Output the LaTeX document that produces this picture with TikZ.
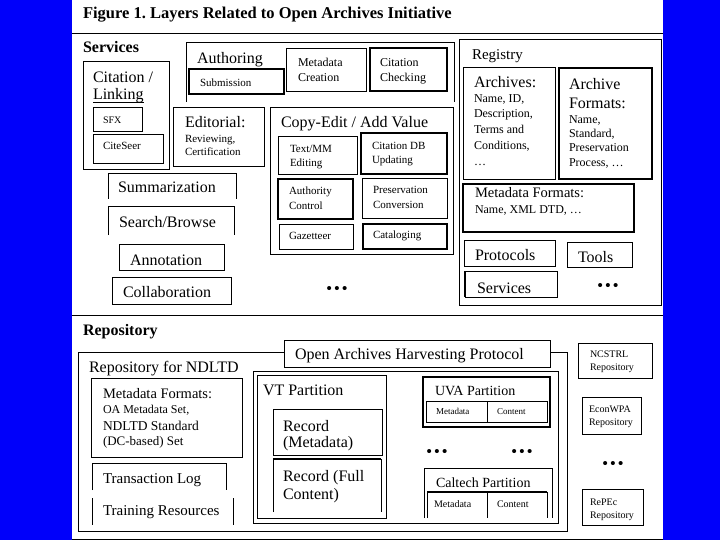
\documentclass[tikz,border=0pt]{standalone}
\usepackage{fontspec}
\setmainfont{Liberation Serif}
\definecolor{bgblue}{RGB}{0,0,250}
\frenchspacing
\begin{document}
\begin{tikzpicture}[x=1pt,y=-1pt,
  box/.style={draw=black,line width=0.8pt},
  tbox/.style={draw=black,line width=1.4pt},
  rule/.style={draw=black,line width=0.9pt},
  lbl/.style={anchor=base west,inner sep=0pt,outer sep=0pt},
  ttl/.style={lbl,font=\fontsize{16.5}{18}\selectfont\bfseries},
  head/.style={lbl,font=\fontsize{16}{18}\selectfont\bfseries},
  big/.style={lbl,font=\fontsize{16}{18}\selectfont},
  med/.style={lbl,font=\fontsize{14.5}{16}\selectfont},
  sml/.style={lbl,font=\fontsize{12}{14}\selectfont},
  xsm/.style={lbl,font=\fontsize{11}{13}\selectfont},
  fnine/.style={lbl,font=\fontsize{10}{12}\selectfont},
  dotrow/.style={anchor=center,inner sep=0pt,font=\fontsize{15}{15}\selectfont\bfseries}
]
% background
\fill[bgblue] (0,0) rectangle (720,540);
\fill[white] (72,0) rectangle (663,540);
\draw[rule] (72,33) -- (663,33);
\draw[rule] (72,315) -- (663,315);
\draw[rule] (72,539.5) -- (663,539.5);

\node[ttl] (title) at (83,19) {Figure 1. Layers Related to Open Archives Initiative};

% ================= SERVICES =================
\node[head] (services) at (83,53) {Services};

% Authoring
\draw[box] (186,102) -- (186,42) -- (454,42) -- (454,102);
\node[big] (authoring) at (197,64) {Authoring};
\draw[box,line width=1.1pt] (189,69) rectangle (284,94);
\node[xsm] (submission) at (200,87) {Submission};
\draw[box] (286,48) rectangle (366,91);
\node[sml] (mdc1) at (298,67) {Metadata};
\node[sml] (mdc2) at (298,82) {Creation};
\draw[tbox] (370,48) rectangle (447,91);
\node[sml] (cc1) at (380,67) {Citation};
\node[sml] (cc2) at (380,82) {Checking};

% Citation / Linking
\draw[box] (83,61) rectangle (169,169);
\node[big] (cit) at (93,83) {Citation /};
\node[big] (link) at (93,100) {Linking};
\draw[black,line width=0.7pt] ([yshift=-2pt]link.base west) -- ([yshift=-2pt]link.base east);
\draw[box] (93,107) rectangle (142,131);
\node[fnine] (sfx) at (103,124) {SFX};
\draw[box] (93,134) rectangle (163,163);
\node[xsm] (citeseer) at (103,150) {CiteSeer};

% Editorial
\draw[box] (173,107) rectangle (264,166);
\node[big] (editorial) at (185,128) {Editorial:};
\node[xsm] (ed2) at (185,143) {Reviewing,};
\node[xsm] (ed3) at (185,156) {Certification};

% Copy-Edit / Add Value
\draw[box] (270,107) rectangle (453,254);
\node[big] (copyedit) at (281,128) {Copy-Edit / Add Value};
\draw[box] (278,136) rectangle (357,174);
\node[xsm] (tm1) at (290,153) {Text/MM};
\node[xsm] (tm2) at (290,167) {Editing};
\draw[tbox] (361,133) rectangle (447,174);
\node[xsm] (cdb1) at (372,150) {Citation DB};
\node[xsm] (cdb2) at (372,164) {Updating};
\draw[tbox] (278,179) rectangle (353,219);
\node[xsm] (ac1) at (289,195) {Authority};
\node[xsm] (ac2) at (289,210) {Control};
\draw[box] (362,178) rectangle (447,218);
\node[xsm] (pc1) at (373,194) {Preservation};
\node[xsm] (pc2) at (373,208) {Conversion};
\draw[box] (279,224) rectangle (353,249);
\node[xsm] (gaz) at (289,240) {Gazetteer};
\draw[tbox] (363,224) rectangle (447,249);
\node[xsm] (cat) at (373,239) {Cataloging};

% left column
\draw[box] (108,199) -- (108,173) -- (236,173) -- (236,199);
\node[big] (summ) at (118,193) {Summarization};
\draw[box] (108,235) -- (108,206) -- (234,206) -- (234,235);
\node[big] (search) at (119,227) {Search/Browse};
\draw[box] (119,244) rectangle (224,270);
\node[big] (annot) at (130,265) {Annotation};
\draw[box] (112,277) rectangle (231,304);
\node[big] (collab) at (123,297) {Collaboration};
\node[dotrow] (sdots) at (337,290) {\textbullet\hspace{2.5pt}\textbullet\hspace{2.5pt}\textbullet};

% Registry
\draw[box] (459,39) rectangle (661,305);
\node[lbl,font=\fontsize{15}{17}\selectfont] (registry) at (472,60) {Registry};
\draw[box] (463,67) rectangle (555,179);
\node[big] (arch) at (474,88) {Archives:};
\node[sml] (arch2) at (474,103) {Name, ID,};
\node[sml] (arch3) at (474,118) {Description,};
\node[sml] (arch4) at (474,134) {Terms and};
\node[sml] (arch5) at (474,150) {Conditions,};
\node[sml] (arch6) at (474,166) {\dots};
\draw[tbox] (559,68) rectangle (652,179);
\node[big] (af1) at (569,90) {Archive};
\node[big] (af2) at (569,109) {Formats:};
\node[sml] (af3) at (569,124) {Name,};
\node[sml] (af4) at (569,138) {Standard,};
\node[sml] (af5) at (569,152) {Preservation};
\node[sml] (af6) at (569,167) {Process, \dots};
\draw[tbox] (463,184) rectangle (634,232);
\node[med] (mf1) at (475,197) {Metadata Formats:};
\node[sml] (mf2) at (475,214) {Name, XML DTD, \dots};
\draw[box] (464,240) rectangle (555,266);
\node[big] (protocols) at (475,260) {Protocols};
\draw[box] (567,242) rectangle (632,267);
\node[big] (tools) at (578,262) {Tools};
\draw[box] (465,271) rectangle (557,297);
\draw[black,line width=1.6pt] (465,271) -- (465,297);
\node[big] (rservices) at (477,293) {Services};
\node[dotrow] (rdots) at (608,287) {\textbullet\hspace{2.5pt}\textbullet\hspace{2.5pt}\textbullet};

% ================= REPOSITORY =================
\node[head] (repository) at (83,335) {Repository};
\draw[box] (78,352) rectangle (567,531);
\node[big] (ndltd) at (89,372) {Repository for NDLTD};
\draw[box,fill=white] (284,340) rectangle (550,367);
\node[big] (oahp) at (295,359) {Open Archives Harvesting Protocol};

\draw[box] (91,378) rectangle (242,457);
\node[med] (rmf1) at (103,398) {Metadata Formats:};
\node[sml] (rmf2) at (103,413) {OA Metadata Set,};
\node[lbl,font=\fontsize{13.5}{15}\selectfont] (rmf3) at (103,430) {NDLTD Standard};
\node[lbl,font=\fontsize{13}{15}\selectfont] (rmf4) at (103,445) {(DC-based) Set};
\draw[box] (92,490) -- (92,463) -- (226,463) -- (226,490);
\node[lbl,font=\fontsize{15}{17}\selectfont] (tlog) at (103,483) {Transaction Log};
\draw[box] (92,498) -- (92,525);
\draw[box] (233,498) -- (233,525);
\node[lbl,font=\fontsize{15}{17}\selectfont] (train) at (103,515) {Training Resources};

% partitions
\draw[box] (253,371) rectangle (558,523);
\draw[box] (257,375) rectangle (386,518);
\node[big] (vt) at (263,395) {VT Partition};
\draw[box] (273,409) rectangle (382,455);
\node[big] (rm1) at (283,431) {Record};
\node[big] (rm2) at (283,447) {(Metadata)};
\draw[box] (273,512) -- (273,459) -- (381,459) -- (381,512);
\draw[black,line width=1.6pt] (273,459) -- (381,459);
\node[big] (rf1) at (283,481) {Record (Full};
\node[big] (rf2) at (283,499) {Content)};

\draw[tbox] (423,377) rectangle (550,427);
\node[lbl,font=\fontsize{14}{16}\selectfont] (uva) at (435,395) {UVA Partition};
\draw[box] (426,401) rectangle (547,422);
\draw[box] (487,401) -- (487,422);
\node[lbl,font=\fontsize{9}{11}\selectfont] (uvam) at (436,414) {Metadata};
\node[lbl,font=\fontsize{9}{11}\selectfont] (uvac) at (497,414) {Content};

\node[dotrow] (pdots1) at (437,453) {\textbullet\hspace{2.5pt}\textbullet\hspace{2.5pt}\textbullet};
\node[dotrow] (pdots2) at (522,453) {\textbullet\hspace{2.5pt}\textbullet\hspace{2.5pt}\textbullet};

\draw[box] (424,518) -- (424,468) -- (552,468) -- (552,518);
\node[lbl,font=\fontsize{14}{16}\selectfont] (caltech) at (436,487) {Caltech Partition};
\draw[box] (427,518) -- (427,492) -- (547,492) -- (547,518);
\draw[black,line width=1.6pt] (427,492) -- (547,492);
\draw[box] (487,492) -- (487,518);
\node[fnine] (calm) at (434,507) {Metadata};
\node[fnine] (calc) at (497,507) {Content};

% other repositories
\draw[box] (578,343) rectangle (652,378);
\node[fnine] (ncs1) at (590,357) {NCSTRL};
\node[fnine] (ncs2) at (590,370) {Repository};
\draw[box] (582,397) rectangle (641,434);
\node[fnine] (ec1) at (589,412) {EconWPA};
\node[fnine] (ec2) at (589,425) {Repository};
\node[dotrow] (odots) at (613,465) {\textbullet\hspace{2.5pt}\textbullet\hspace{2.5pt}\textbullet};
\draw[box] (582,489) rectangle (643,525);
\node[fnine] (rp1) at (590,505) {RePEc};
\node[fnine] (rp2) at (590,518) {Repository};
\end{tikzpicture}
\end{document}
